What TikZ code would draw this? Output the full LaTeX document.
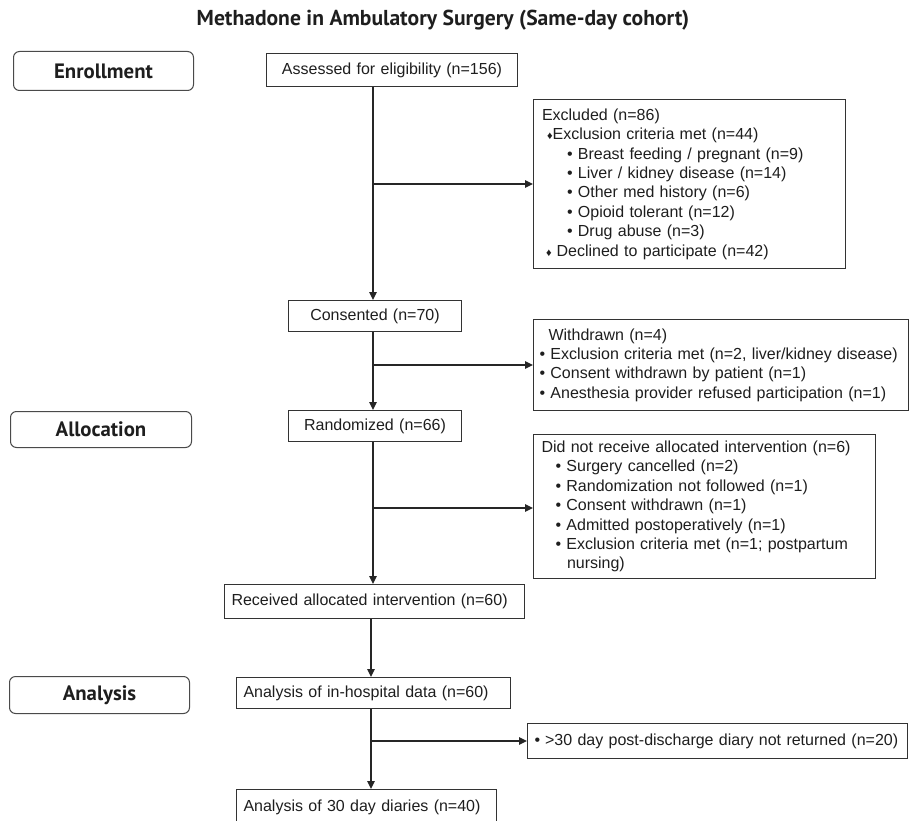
\documentclass[tikz,border=0pt]{standalone}
\usepackage{fontspec}
\setmainfont{Liberation Sans}
\newfontfamily\hdfont{PT Sans}
\usetikzlibrary{arrows.meta}
\definecolor{boxc}{HTML}{333333}
\definecolor{lblc}{HTML}{4A4A4A}
\definecolor{linec}{HTML}{262626}
\definecolor{txtc}{HTML}{1E1E1E}
\newcommand{\dmnd}{{\fontsize{11}{11}\selectfont ♦}}
\begin{document}
\begin{tikzpicture}[x=1pt,y=-1pt,
  box/.style={draw=boxc, line width=1pt, anchor=north west, inner ysep=0pt, text=txtc,
    font=\fontsize{16}{19.4}\selectfont},
  lbl/.style={draw=lblc, line width=1pt, rounded corners=6pt, anchor=north west, inner sep=0pt,
    text=txtc, font=\hdfont\bfseries\fontsize{20.8}{22}\selectfont},
  arr/.style={draw=linec, line width=1.3pt, -{Triangle[length=8pt,width=7.5pt]}},
  ln/.style={draw=linec, line width=1.3pt}]
\useasboundingbox (0,0) rectangle (912,821);

% title
\node[font=\hdfont\bfseries\fontsize{21.6}{23}\selectfont, text=txtc] (title) at (443,20)
  {Methadone in Ambulatory Surgery (Same-day cohort)};

% stage labels
\node[lbl, minimum width=180pt, minimum height=39pt] (enroll) at (13,51) {Enrollment};
\node[lbl, minimum width=181pt, minimum height=36pt] (alloc) at (10,411) {Allocation};
\node[lbl, minimum width=180pt, minimum height=37pt] (anal) at (9,676) {Analysis};

% main column
\node[box, minimum width=251pt, minimum height=33pt, text width=235pt, inner xsep=8pt, align=center]
  (assessed) at (266,53) {Assessed for eligibility (n=156)};
\node[box, minimum width=173pt, minimum height=31pt, text width=157pt, inner xsep=8pt, align=center]
  (consent) at (288,300) {Consented (n=70)};
\node[box, minimum width=173pt, minimum height=31pt, text width=157pt, inner xsep=8pt, align=center]
  (random) at (288,410) {Randomized (n=66)};
\node[box, minimum width=300pt, minimum height=34pt, text width=286pt, inner xsep=7pt, align=left]
  (received) at (224,584) {Received allocated intervention (n=60)};
\node[box, minimum width=274pt, minimum height=31pt, text width=260pt, inner xsep=7pt, align=left]
  (inhosp) at (236,677) {Analysis of in-hospital data (n=60)};
\node[box, minimum width=260pt, minimum height=36pt, text width=246pt, inner xsep=7pt, align=left]
  (thirty) at (236,789) {Analysis of 30 day diaries (n=40)};

% side boxes
\node[box, minimum width=312pt, minimum height=169pt, text width=295pt, inner xsep=8.5pt, align=left]
  (excl) at (533,99) {Excluded (n=86)\\
  \hspace*{5pt}\dmnd Exclusion criteria met (n=44)\\
  \hspace*{25pt}• Breast feeding / pregnant (n=9)\\
  \hspace*{25pt}• Liver / kidney disease (n=14)\\
  \hspace*{25pt}• Other med history (n=6)\\
  \hspace*{25pt}• Opioid tolerant (n=12)\\
  \hspace*{25pt}• Drug abuse (n=3)\\
  \hspace*{4pt}\dmnd\hspace{5pt}Declined to participate (n=42)};
\node[box, minimum width=375pt, minimum height=91pt, text width=363pt, inner xsep=6pt, align=left]
  (withdr) at (533,319) {\hspace*{9pt}Withdrawn (n=4)\\
  • Exclusion criteria met (n=2, liver/kidney disease)\\
  • Consent withdrawn by patient (n=1)\\
  • Anesthesia provider refused participation (n=1)};
\node[box, minimum width=342pt, minimum height=144pt, text width=326pt, inner xsep=8pt, align=left]
  (notrec) at (533,434) {Did not receive allocated intervention (n=6)\\
  \hspace*{14pt}• Surgery cancelled (n=2)\\
  \hspace*{14pt}• Randomization not followed (n=1)\\
  \hspace*{14pt}• Consent withdrawn (n=1)\\
  \hspace*{14pt}• Admitted postoperatively (n=1)\\
  \hspace*{14pt}• Exclusion criteria met (n=1; postpartum\\
  \hspace*{25.5pt}nursing)};
\node[box, minimum width=380pt, minimum height=35pt, text width=366pt, inner xsep=7pt, align=left]
  (diary) at (527,723) {•\hspace{5pt}>30 day post-discharge diary not returned (n=20)};

% connectors
\coordinate (j1) at (373,184);
\coordinate (j2) at (373,365);
\coordinate (j3) at (373,508);
\coordinate (j4) at (371,741);
\draw[arr] (j1 |- assessed.south) -- (j1 |- consent.north);
\draw[arr] (j1) -- (j1 -| excl.west);
\draw[arr] (j2 |- consent.south) -- (j2 |- random.north);
\draw[arr] (j2) -- (j2 -| withdr.west);
\draw[arr] (j3 |- random.south) -- (j3 |- received.north);
\draw[arr] (j3) -- (j3 -| notrec.west);
\draw[arr] (j4 |- received.south) -- (j4 |- inhosp.north);
\draw[arr] (j4 |- inhosp.south) -- (j4 |- thirty.north);
\draw[arr] (j4) -- (j4 -| diary.west);
\end{tikzpicture}
\end{document}
